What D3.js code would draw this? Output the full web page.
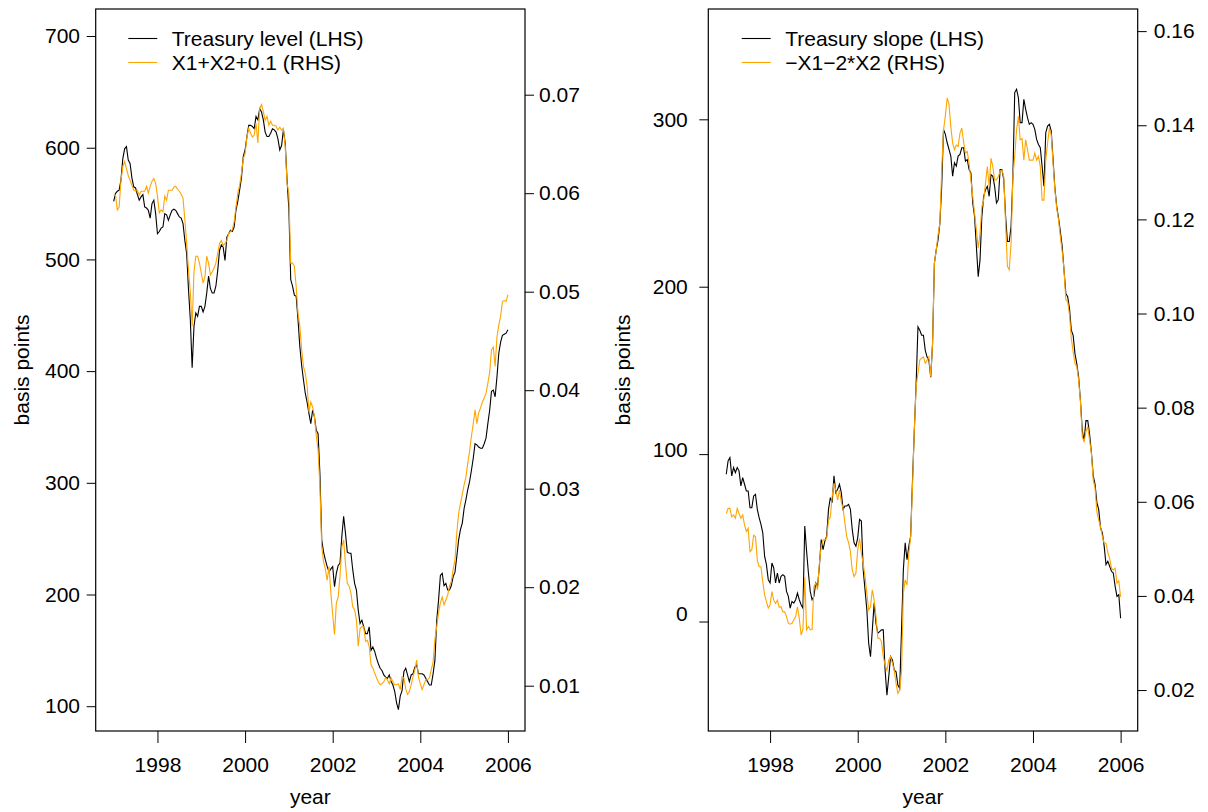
<!DOCTYPE html>
<html>
<head>
<meta charset="utf-8">
<script src="https://cdn.jsdelivr.net/npm/d3@7"></script>
<style>
  body { margin: 0; background: #fff; }
  text { font-family: "Liberation Sans", Arial, Helvetica, sans-serif; }
</style>
</head>
<body>
<div class="canvas"></div>
<script>
// Setting constants
const wWidth = 1208
const wHeight = 812

// Half-monthly observation dates, Jan 1997 .. Jan 2006
const dates = d3.range(217).map(j => 1997 + j / 24)
const yearTicks = [1998, 2000, 2002, 2004, 2006]

// Treasury level (basis points), one row per year
const levelBp = [
  552, 559, 561, 562, 571, 590, 599, 601, 589, 586, 573, 565, 564, 558, 553, 556, 558, 547, 546, 544, 537, 550, 553, 541,
  523, 525, 528, 529, 541, 540, 535, 540, 544, 545, 544, 541, 538, 537, 532, 517, 505, 473, 446, 403, 440, 452, 449, 458,
  458, 453, 458, 470, 485, 474, 470, 470, 476, 490, 508, 513, 511, 499, 520, 523, 526, 525, 529, 544, 552, 562, 573, 592,
  598, 610, 620, 620, 619, 617, 628, 625, 635, 632, 625, 614, 610, 610, 613, 617, 616, 614, 608, 598, 602, 616, 604, 571,
  545, 482, 476, 468, 467, 446, 422, 405, 392, 380, 372, 362, 353, 365, 359, 347, 344, 308, 249, 238, 231, 225, 220, 223,
  225, 207, 219, 226, 228, 252, 270, 255, 238, 237, 237, 222, 210, 204, 186, 174, 177, 171, 165, 165, 171, 150, 153, 149,
  143, 138, 134, 132, 128, 126, 125, 128, 122, 119, 113, 103, 97, 109, 114, 131, 134, 128, 122, 128, 129, 135, 137, 129,
  129, 129, 128, 125, 122, 119, 119, 129, 141, 177, 195, 217, 219, 208, 210, 204, 204, 208, 216, 220, 234, 249, 258, 264,
  277, 285, 294, 301, 311, 322, 335, 334, 332, 331, 331, 335, 340, 353, 365, 382, 383, 377, 395, 416, 426, 432, 433, 434,
  437
]
// X1+X2+0.1 (right-hand scale)
const levelFit = [
  0.0598, 0.0598, 0.0583, 0.0586, 0.0613, 0.0627, 0.0632, 0.0625, 0.0618, 0.0613, 0.0608, 0.0603,
  0.0602, 0.0603, 0.0598, 0.0602, 0.0602, 0.0602, 0.0607, 0.0600, 0.0607, 0.0612, 0.0615, 0.0610,
  0.0597, 0.0580, 0.0583, 0.0581, 0.0597, 0.0593, 0.0603, 0.0603, 0.0603, 0.0606, 0.0607, 0.0604,
  0.0602, 0.0599, 0.0595, 0.0573, 0.0549, 0.0522, 0.0500, 0.0465, 0.0520, 0.0536, 0.0536, 0.0529,
  0.0519, 0.0509, 0.0515, 0.0536, 0.0529, 0.0517, 0.0520, 0.0524, 0.0529, 0.0539, 0.0549, 0.0552,
  0.0547, 0.0549, 0.0552, 0.0559, 0.0561, 0.0563, 0.0571, 0.0586, 0.0600, 0.0608, 0.0620, 0.0635,
  0.0640, 0.0657, 0.0666, 0.0661, 0.0657, 0.0659, 0.0671, 0.0651, 0.0686, 0.0690, 0.0683, 0.0674,
  0.0678, 0.0669, 0.0673, 0.0669, 0.0669, 0.0668, 0.0664, 0.0667, 0.0664, 0.0666, 0.0647, 0.0610,
  0.0600, 0.0529, 0.0529, 0.0526, 0.0505, 0.0478, 0.0465, 0.0441, 0.0424, 0.0417, 0.0404, 0.0378,
  0.0388, 0.0383, 0.0373, 0.0354, 0.0339, 0.0302, 0.0241, 0.0226, 0.0218, 0.0207, 0.0221, 0.0194,
  0.0172, 0.0152, 0.0184, 0.0190, 0.0211, 0.0241, 0.0248, 0.0224, 0.0204, 0.0201, 0.0194, 0.0180,
  0.0177, 0.0167, 0.0140, 0.0158, 0.0160, 0.0160, 0.0145, 0.0146, 0.0140, 0.0121, 0.0118, 0.0113,
  0.0108, 0.0104, 0.0101, 0.0102, 0.0104, 0.0108, 0.0106, 0.0102, 0.0108, 0.0104, 0.0101, 0.0101,
  0.0102, 0.0096, 0.0109, 0.0108, 0.0097, 0.0091, 0.0094, 0.0101, 0.0109, 0.0116, 0.0126, 0.0109,
  0.0102, 0.0096, 0.0101, 0.0106, 0.0106, 0.0108, 0.0116, 0.0124, 0.0147, 0.0160, 0.0174, 0.0184,
  0.0190, 0.0182, 0.0187, 0.0192, 0.0201, 0.0206, 0.0218, 0.0228, 0.0255, 0.0275, 0.0285, 0.0294,
  0.0304, 0.0312, 0.0326, 0.0338, 0.0353, 0.0366, 0.0380, 0.0366, 0.0377, 0.0382, 0.0388, 0.0392,
  0.0397, 0.0407, 0.0418, 0.0441, 0.0444, 0.0424, 0.0454, 0.0466, 0.0475, 0.0490, 0.0491, 0.0490,
  0.0497
]
const levelTicksL = [100, 200, 300, 400, 500, 600, 700]
const levelTicksR = [0.01, 0.02, 0.03, 0.04, 0.05, 0.06, 0.07]

// Treasury slope (basis points), one row per year
const slopeBp = [
  88, 96, 98, 87, 92, 89, 92, 90, 81, 86, 82, 78, 78, 68, 68, 75, 76, 67, 62, 58, 53, 39, 34, 25,
  23, 35, 32, 23, 29, 23, 27, 28, 27, 18, 15, 8, 12, 11, 13, 17, 13, 10, 8, 57, 42, 29, 18, 13,
  15, 23, 21, 33, 49, 43, 48, 51, 67, 74, 71, 87, 77, 79, 82, 77, 67, 69, 69, 70, 67, 55, 47, 45,
  50, 61, 60, 31, 19, 7, -13, -21, -5, 11, -1, -7, -6, -5, -5, -29, -44, -33, -21, -23, -29, -30, -38, -40,
  -5, 31, 47, 37, 45, 51, 84, 114, 142, 176, 174, 171, 171, 162, 158, 156, 146, 166, 214, 222, 228, 238, 260, 294,
  291, 286, 282, 278, 266, 274, 272, 278, 279, 283, 283, 275, 276, 270, 268, 250, 242, 224, 206, 216, 242, 254, 258, 260,
  254, 267, 266, 260, 250, 252, 270, 270, 264, 242, 227, 227, 236, 266, 316, 318, 313, 298, 298, 312, 306, 301, 297, 298,
  297, 294, 288, 285, 283, 272, 260, 292, 296, 297, 293, 276, 259, 248, 241, 233, 224, 210, 196, 194, 187, 174, 171, 160,
  154, 146, 132, 114, 108, 120, 120, 112, 101, 87, 82, 71, 67, 56, 53, 45, 34, 36, 33, 30, 29, 21, 15, 16,
  2
]
// -X1-2*X2 (right-hand scale)
const slopeFit = [
  0.0575, 0.0586, 0.0586, 0.0568, 0.0572, 0.0565, 0.0586, 0.0575, 0.0565, 0.0572, 0.0551, 0.0537,
  0.0544, 0.0494, 0.0498, 0.0529, 0.0526, 0.0476, 0.0462, 0.0462, 0.0430, 0.0402, 0.0388, 0.0374,
  0.0381, 0.0409, 0.0391, 0.0384, 0.0391, 0.0376, 0.0377, 0.0366, 0.0366, 0.0356, 0.0342, 0.0340,
  0.0342, 0.0349, 0.0356, 0.0377, 0.0352, 0.0317, 0.0330, 0.0440, 0.0328, 0.0335, 0.0328, 0.0328,
  0.0420, 0.0427, 0.0413, 0.0469, 0.0505, 0.0519, 0.0519, 0.0522, 0.0561, 0.0568, 0.0611, 0.0639,
  0.0625, 0.0604, 0.0625, 0.0600, 0.0586, 0.0554, 0.0526, 0.0513, 0.0494, 0.0455, 0.0441, 0.0448,
  0.0498, 0.0522, 0.0490, 0.0469, 0.0441, 0.0406, 0.0370, 0.0377, 0.0413, 0.0391, 0.0356, 0.0310,
  0.0310, 0.0303, 0.0271, 0.0253, 0.0242, 0.0264, 0.0271, 0.0257, 0.0242, 0.0214, 0.0193, 0.0200,
  0.0240, 0.0406, 0.0434, 0.0423, 0.0490, 0.0526, 0.0632, 0.0753, 0.0845, 0.0873, 0.0901, 0.0905,
  0.0908, 0.0894, 0.0901, 0.0908, 0.0866, 0.0937, 0.1107, 0.1135, 0.1167, 0.1192, 0.1305, 0.1390,
  0.1420, 0.1458, 0.1445, 0.1397, 0.1362, 0.1348, 0.1358, 0.1355, 0.1383, 0.1394, 0.1365, 0.1341,
  0.1344, 0.1319, 0.1284, 0.1249, 0.1213, 0.1178, 0.1139, 0.1171, 0.1227, 0.1241, 0.1277, 0.1312,
  0.1270, 0.1330, 0.1312, 0.1284, 0.1284, 0.1291, 0.1302, 0.1305, 0.1291, 0.1192, 0.1100, 0.1093,
  0.1149, 0.1291, 0.1334, 0.1390, 0.1419, 0.1369, 0.1372, 0.1326, 0.1369, 0.1348, 0.1326, 0.1326,
  0.1326, 0.1341, 0.1326, 0.1334, 0.1312, 0.1241, 0.1241, 0.1326, 0.1362, 0.1394, 0.1380, 0.1319,
  0.1263, 0.1224, 0.1199, 0.1163, 0.1132, 0.1093, 0.1029, 0.1025, 0.0997, 0.0947, 0.0919, 0.0894,
  0.0887, 0.0859, 0.0813, 0.0738, 0.0728, 0.0749, 0.0760, 0.0731, 0.0703, 0.0646, 0.0629, 0.0579,
  0.0561, 0.0547, 0.0526, 0.0512, 0.0512, 0.0492, 0.0480, 0.0459, 0.0455, 0.0459, 0.0427, 0.0432,
  0.0398
]
const slopeTicksL = [0, 100, 200, 300]
const slopeTicksR = [0.02, 0.04, 0.06, 0.08, 0.10, 0.12, 0.14, 0.16]

const legendLevel = ["Treasury level (LHS)", "X1+X2+0.1 (RHS)"]
const legendSlope = ["Treasury slope (LHS)", "\u2212X1\u22122*X2 (RHS)"]

const orange = "#FFA500"
const fontSize = 21

// Creating a svg element in html.
const svg = d3.select('.canvas')
    .append('svg')
    .attr("width", wWidth)
    .attr("height", wHeight)

// Draws one panel: box, two y axes, x axis, two lines and a legend
function drawPanel(p) {
  const g = svg.append('g').attr('transform', `translate(${p.left}, ${p.top})`)
  const w = p.width, h = p.height

  const xScale = d3.scaleLinear().domain([1996.59, 2006.39]).range([0, w])
  const yL = d3.scaleLinear().domain(p.domainL).range([h, 0])
  const yR = d3.scaleLinear().domain(p.domainR).range([h, 0])

  // x axis
  const xAxisGroup = g.append('g')
      .attr('transform', `translate(0, ${h})`)
      .call(d3.axisBottom(xScale).tickValues(yearTicks).tickFormat(d3.format('d'))
        .tickSize(12).tickPadding(14.5))
  // left axis
  const yAxisGroup = g.append('g')
      .call(d3.axisLeft(yL).tickValues(p.ticksL).tickFormat(d3.format('d'))
        .tickSize(9).tickPadding(p.padL))
  // right axis
  const yAxisGroupR = g.append('g')
      .attr('transform', `translate(${w}, 0)`)
      .call(d3.axisRight(yR).tickValues(p.ticksR).tickFormat(d3.format('.2f'))
        .tickSize(9).tickPadding(p.padR))

  ;[xAxisGroup, yAxisGroup, yAxisGroupR].forEach(a => {
    a.select('.domain').remove()
    a.selectAll('line').attr('stroke', '#000').attr('stroke-width', 1)
    a.selectAll('text').attr('font-size', fontSize).attr('fill', '#000')
      .attr('font-family', '"Liberation Sans", Arial, sans-serif')
  })
  // a couple of left labels sit a bit above their ticks in the original
  if (p.labelShift) {
    yAxisGroup.selectAll('.tick text')
      .attr('transform', d => (p.labelShift[d] ? `translate(0, ${-p.labelShift[d]})` : null))
  }

  // box
  g.append('rect')
      .attr('x', 0).attr('y', 0)
      .attr('width', w).attr('height', h)
      .attr('fill', 'none').attr('stroke', '#000').attr('stroke-width', 1.2)

  // lines
  const lineL = d3.line().x((d, i) => xScale(dates[i])).y(d => yL(d))
  const lineR = d3.line().x((d, i) => xScale(dates[i])).y(d => yR(d))
  g.append('path').datum(p.seriesL)
      .attr('d', lineL).attr('fill', 'none').attr('stroke', '#000').attr('stroke-width', 1.1)
  g.append('path').datum(p.seriesR)
      .attr('d', lineR).attr('fill', 'none').attr('stroke', orange).attr('stroke-width', 1.1)

  // axis titles
  g.append('text')
      .attr('transform', `translate(${w / 2}, ${h + 73})`)
      .attr('text-anchor', 'middle')
      .attr('font-size', fontSize)
      .text('year')
  g.append('text')
      .attr('transform', `translate(${p.titleX}, ${h / 2}) rotate(-90)`)
      .attr('text-anchor', 'middle')
      .attr('dy', '0.35em')
      .attr('font-size', fontSize)
      .text('basis points')

  // legend
  const legend = g.selectAll('.legend')
      .data(p.legend)
      .enter()
      .append('g')
      .attr('transform', (d, i) => `translate(${p.legendX}, ${29.5 + i * 24})`)
  legend.append('line')
      .attr('x1', 0).attr('x2', 29)
      .attr('stroke', (d, i) => i === 0 ? '#000' : orange)
      .attr('stroke-width', 1.1)
  legend.append('text')
      .attr('x', 43.5)
      .attr('dy', '0.35em')
      .attr('font-size', fontSize)
      .text(d => d)
}

drawPanel({
  left: 95.7, top: 9, width: 429.3, height: 722,
  domainL: [77.8, 724.2], domainR: [0.0054, 0.0787],
  ticksL: levelTicksL, ticksR: levelTicksR,
  padL: 6.7, padR: 5,
  seriesL: levelBp, seriesR: levelFit,
  legend: legendLevel, legendX: 32.6, titleX: -74
})

drawPanel({
  left: 708.3, top: 9, width: 429.4, height: 722,
  domainL: [-65.4, 365.9], domainR: [0.0113, 0.1647],
  ticksL: slopeTicksL, ticksR: slopeTicksR,
  padL: 11.5, padR: 7,
  seriesL: slopeBp, seriesR: slopeFit,
  legend: legendSlope, legendX: 33.4, titleX: -86,
  labelShift: {0: 8, 100: 4}
})
</script>
</body>
</html>
